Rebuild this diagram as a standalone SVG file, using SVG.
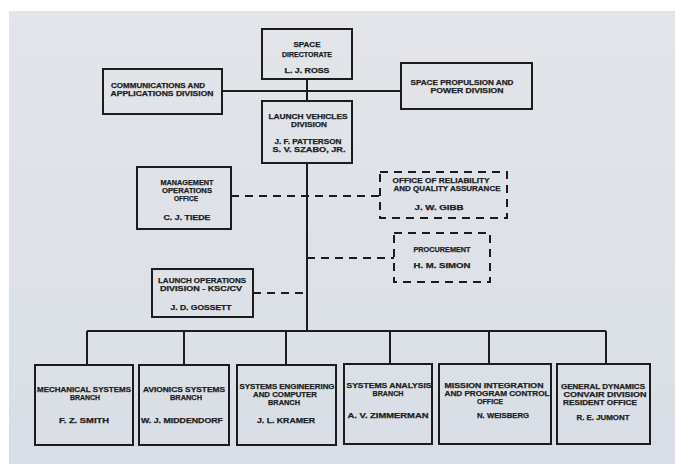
<svg xmlns="http://www.w3.org/2000/svg" width="675" height="464" viewBox="0 0 675 464">
<defs>
<linearGradient id="paper" x1="0" y1="0" x2="0" y2="1">
<stop offset="0" stop-color="#e3e5ea"/>
<stop offset="1" stop-color="#d9dee6"/>
</linearGradient>
<style>
.box{fill:none;stroke:#1c1c1c;stroke-width:2}
.dbox{fill:none;stroke:#1c1c1c;stroke-width:2;stroke-dasharray:8 6}
.ln{fill:none;stroke:#1c1c1c;stroke-width:2}
.dl{fill:none;stroke:#1c1c1c;stroke-width:2;stroke-dasharray:8 6}
text{font-family:"Liberation Sans","DejaVu Sans",sans-serif;font-weight:bold;font-size:7px;fill:#1e1e1e;text-anchor:middle;stroke:#1e1e1e;stroke-width:0.25}
</style>
</defs>
<rect x="0" y="0" width="675" height="464" fill="#ffffff"/>
<rect x="9" y="11" width="666" height="453" fill="url(#paper)"/>

<g id="connectors">
<path class="ln" d="M222 91 H401"/>
<path class="ln" d="M307 79 V101"/>
<path class="ln" d="M307 163 V331"/>
<path class="dl" d="M231 196 H380"/>
<path class="dl" d="M307 258 H394"/>
<path class="dl" d="M253 293 H307"/>
<path class="ln" d="M87 331 H606"/>
<path class="ln" d="M87 331 V365 M184 331 V365 M286 331 V365 M390 331 V364 M489 331 V364 M606 331 V364"/>
</g>

<g id="space-directorate">
<rect class="box" x="262" y="29" width="90" height="50"/>
<text x="307" y="47" textLength="27" lengthAdjust="spacingAndGlyphs">SPACE</text>
<text x="307" y="57" textLength="50" lengthAdjust="spacingAndGlyphs">DIRECTORATE</text>
<text x="307" y="73" textLength="45" lengthAdjust="spacingAndGlyphs">L. J. ROSS</text>
</g>

<g id="communications">
<rect class="box" x="103" y="69" width="119" height="45"/>
<text x="158" y="88" textLength="94" lengthAdjust="spacingAndGlyphs">COMMUNICATIONS AND</text>
<text x="162" y="96" textLength="103" lengthAdjust="spacingAndGlyphs">APPLICATIONS DIVISION</text>
</g>

<g id="space-propulsion">
<rect class="box" x="401" y="63" width="131" height="46"/>
<text x="462" y="85" textLength="103" lengthAdjust="spacingAndGlyphs">SPACE PROPULSION AND</text>
<text x="467" y="93" textLength="73" lengthAdjust="spacingAndGlyphs">POWER DIVISION</text>
</g>

<g id="launch-vehicles">
<rect class="box" x="262" y="101" width="90" height="62"/>
<text x="308" y="119" textLength="79" lengthAdjust="spacingAndGlyphs">LAUNCH VEHICLES</text>
<text x="309" y="127" textLength="36" lengthAdjust="spacingAndGlyphs">DIVISION</text>
<text x="308" y="144" textLength="67" lengthAdjust="spacingAndGlyphs">J. F. PATTERSON</text>
<text x="309" y="152" textLength="73" lengthAdjust="spacingAndGlyphs">S. V. SZABO, JR.</text>
</g>

<g id="management-operations">
<rect class="box" x="137" y="167" width="94" height="62"/>
<text x="187" y="185" textLength="53" lengthAdjust="spacingAndGlyphs">MANAGEMENT</text>
<text x="187" y="193" textLength="50" lengthAdjust="spacingAndGlyphs">OPERATIONS</text>
<text x="186" y="201" textLength="24" lengthAdjust="spacingAndGlyphs">OFFICE</text>
<text x="187" y="220" textLength="47" lengthAdjust="spacingAndGlyphs">C. J. TIEDE</text>
</g>

<g id="reliability">
<rect class="dbox" x="380" y="172" width="127" height="46"/>
<text x="441" y="183" textLength="97" lengthAdjust="spacingAndGlyphs">OFFICE OF RELIABILITY</text>
<text x="447" y="191" textLength="107" lengthAdjust="spacingAndGlyphs">AND QUALITY ASSURANCE</text>
<text x="439" y="210" textLength="49" lengthAdjust="spacingAndGlyphs">J. W. GIBB</text>
</g>

<g id="procurement">
<rect class="dbox" x="394" y="233" width="96" height="49"/>
<text x="442" y="252" textLength="57" lengthAdjust="spacingAndGlyphs">PROCUREMENT</text>
<text x="442" y="268" textLength="57" lengthAdjust="spacingAndGlyphs">H. M. SIMON</text>
</g>

<g id="launch-operations">
<rect class="box" x="152" y="269" width="101" height="48"/>
<text x="202" y="283" textLength="88" lengthAdjust="spacingAndGlyphs">LAUNCH OPERATIONS</text>
<text x="201" y="291" textLength="82" lengthAdjust="spacingAndGlyphs">DIVISION - KSC/CV</text>
<text x="201" y="310" textLength="61" lengthAdjust="spacingAndGlyphs">J. D. GOSSETT</text>
</g>

<g id="mechanical-systems">
<rect class="box" x="35" y="365" width="98" height="80"/>
<text x="84" y="392" textLength="94" lengthAdjust="spacingAndGlyphs">MECHANICAL SYSTEMS</text>
<text x="85" y="400" textLength="30" lengthAdjust="spacingAndGlyphs">BRANCH</text>
<text x="84" y="423" textLength="50" lengthAdjust="spacingAndGlyphs">F. Z. SMITH</text>
</g>

<g id="avionics-systems">
<rect class="box" x="139" y="365" width="90" height="80"/>
<text x="184" y="392" textLength="82" lengthAdjust="spacingAndGlyphs">AVIONICS SYSTEMS</text>
<text x="186" y="400" textLength="32" lengthAdjust="spacingAndGlyphs">BRANCH</text>
<text x="182" y="423" textLength="82" lengthAdjust="spacingAndGlyphs">W. J. MIDDENDORF</text>
</g>

<g id="systems-engineering">
<rect class="box" x="237" y="365" width="99" height="80"/>
<text x="287" y="389" textLength="95" lengthAdjust="spacingAndGlyphs">SYSTEMS ENGINEERING</text>
<text x="285" y="397" textLength="64" lengthAdjust="spacingAndGlyphs">AND COMPUTER</text>
<text x="284" y="405" textLength="32" lengthAdjust="spacingAndGlyphs">BRANCH</text>
<text x="286" y="423" textLength="58" lengthAdjust="spacingAndGlyphs">J. L. KRAMER</text>
</g>

<g id="systems-analysis">
<rect class="box" x="344" y="364" width="88" height="80"/>
<text x="389" y="388" textLength="85" lengthAdjust="spacingAndGlyphs">SYSTEMS ANALYSIS</text>
<text x="388" y="396" textLength="31" lengthAdjust="spacingAndGlyphs">BRANCH</text>
<text x="388" y="418" textLength="81" lengthAdjust="spacingAndGlyphs">A. V. ZIMMERMAN</text>
</g>

<g id="mission-integration">
<rect class="box" x="439" y="364" width="112" height="80"/>
<text x="494" y="388" textLength="99" lengthAdjust="spacingAndGlyphs">MISSION INTEGRATION</text>
<text x="497" y="396" textLength="105" lengthAdjust="spacingAndGlyphs">AND PROGRAM CONTROL</text>
<text x="490" y="404" textLength="26" lengthAdjust="spacingAndGlyphs">OFFICE</text>
<text x="503" y="418" textLength="52" lengthAdjust="spacingAndGlyphs">N. WEISBERG</text>
</g>

<g id="general-dynamics">
<rect class="box" x="557" y="364" width="93" height="80"/>
<text x="603" y="389" textLength="84" lengthAdjust="spacingAndGlyphs">GENERAL DYNAMICS</text>
<text x="605" y="397" textLength="83" lengthAdjust="spacingAndGlyphs">CONVAIR DIVISION</text>
<text x="600" y="405" textLength="74" lengthAdjust="spacingAndGlyphs">RESIDENT OFFICE</text>
<text x="603" y="420" textLength="53" lengthAdjust="spacingAndGlyphs">R. E. JUMONT</text>
</g>
</svg>
